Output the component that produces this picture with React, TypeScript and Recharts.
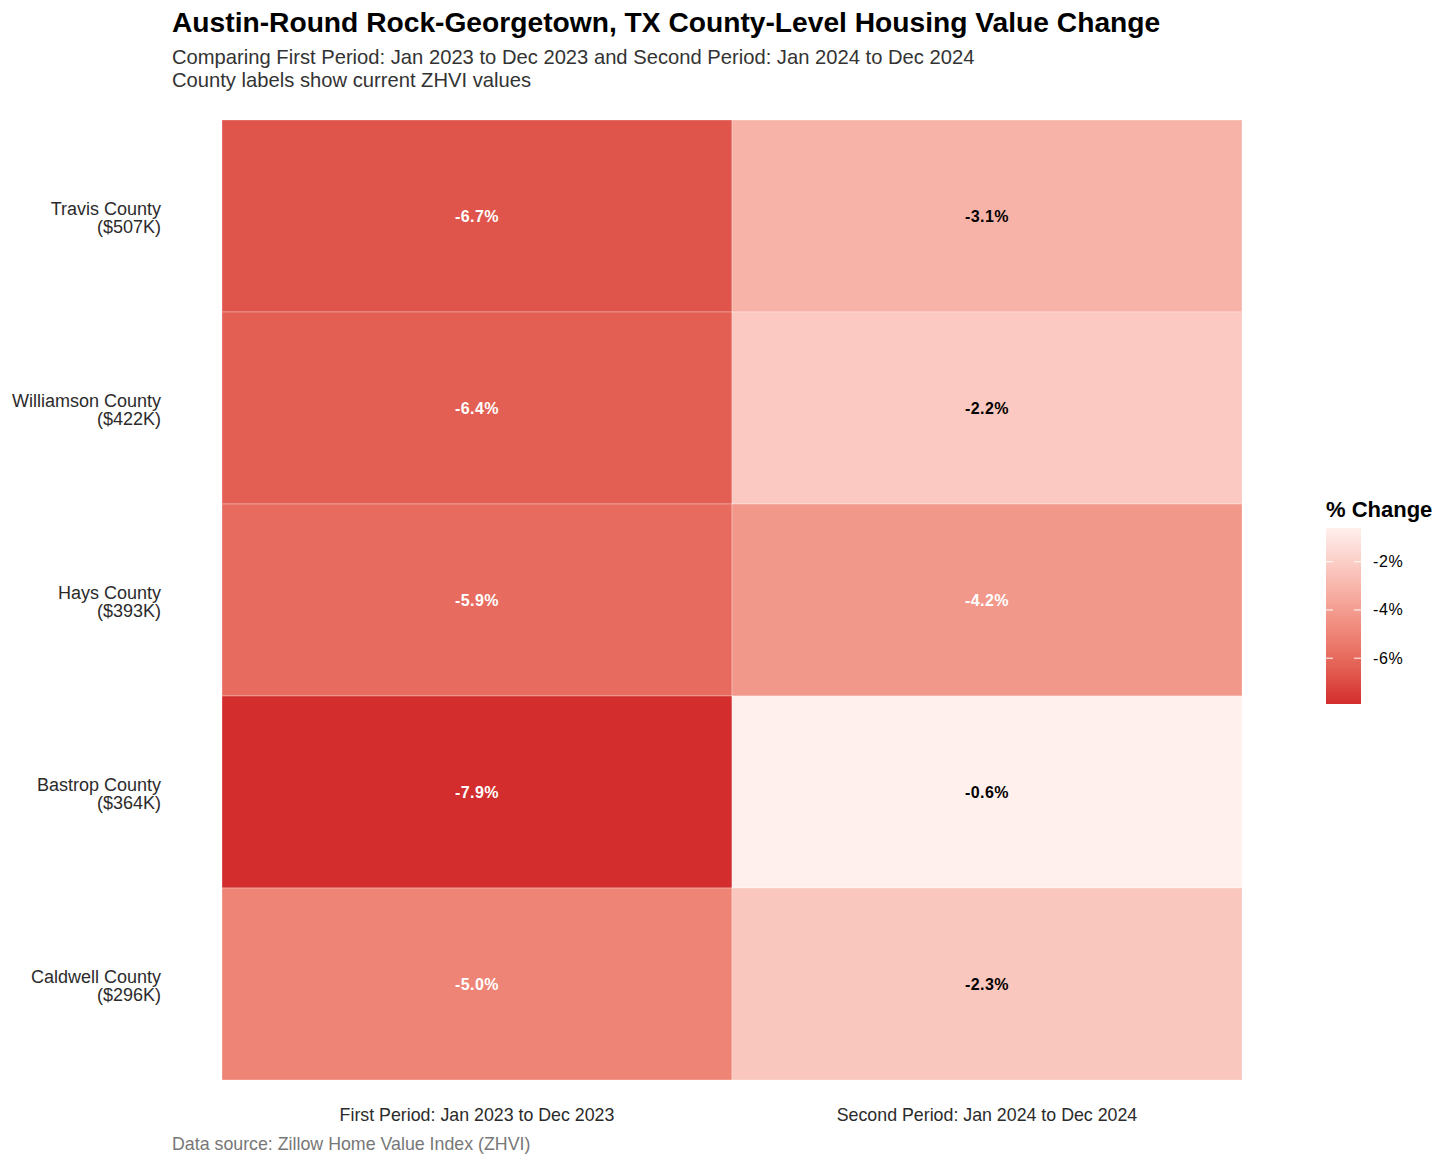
import React from "react";
import { BarChart, Bar, XAxis, YAxis, Cell, LabelList } from "recharts";

const counties = ["Travis County", "Williamson County", "Hays County", "Bastrop County", "Caldwell County"];
const zhviLabels = ["$507K", "$422K", "$393K", "$364K", "$296K"];
const firstPeriod = [-6.7, -6.4, -5.9, -7.9, -5.0];
const secondPeriod = [-3.1, -2.2, -4.2, -0.6, -2.3];
const periodLabels = ["First Period: Jan 2023 to Dec 2023", "Second Period: Jan 2024 to Dec 2024"];
const legendTicks = [-2, -4, -6];

const colorStops: [number, string][] = [
  [-7.9, "#d32d2d"],
  [-6.5, "#e25c50"],
  [-5.0, "#ee8476"],
  [-3.1, "#f8b3a8"],
  [-0.6, "#fff0ee"],
];

const FONT = "'Liberation Sans', Arial, Helvetica, sans-serif";

function hexToRgb(h: string) {
  const n = parseInt(h.slice(1), 16);
  return [(n >> 16) & 255, (n >> 8) & 255, n & 255];
}
function colorFor(v: number): string {
  if (v <= colorStops[0][0]) return colorStops[0][1];
  for (let i = 0; i < colorStops.length - 1; i++) {
    const [a, ca] = colorStops[i];
    const [b, cb] = colorStops[i + 1];
    if (v >= a && v <= b) {
      const t = (v - a) / (b - a);
      const ra = hexToRgb(ca);
      const rb = hexToRgb(cb);
      const c = ra.map((x, k) => Math.round(x + (rb[k] - x) * t));
      return `rgb(${c[0]},${c[1]},${c[2]})`;
    }
  }
  return colorStops[colorStops.length - 1][1];
}

const data = counties.map((c, i) => ({
  county: c,
  zhvi: zhviLabels[i],
  first: firstPeriod[i],
  second: secondPeriod[i],
  w1: 1,
  w2: 1,
}));

const CountyTick = (props: any) => {
  const { y, payload } = props;
  const idx = counties.indexOf(payload.value);
  return (
    <text x={161} y={y} textAnchor="end" fontSize={18} fill="#2b2b2b" fontFamily={FONT}>
      <tspan x={161} dy={-1.5}>{payload.value}</tspan>
      <tspan x={161} dy={18.8}>({zhviLabels[idx]})</tspan>
    </text>
  );
};

const PeriodTick = (props: any) => {
  const { x, payload } = props;
  const label = payload.value < 1 ? periodLabels[0] : periodLabels[1];
  return (
    <text x={x} y={1121} textAnchor="middle" fontSize={17.8} fill="#2b2b2b" fontFamily={FONT}>
      {label}
    </text>
  );
};

const renderValue = (props: any) => {
  const { x, y, width, height, value } = props;
  const v = Number(value);
  return (
    <text
      x={x + width / 2}
      y={y + height / 2}
      textAnchor="middle"
      dominantBaseline="central"
      fontSize={16}
      letterSpacing={0.4}
      fontWeight="bold"
      fill={v <= -4 ? "#ffffff" : "#000000"}
      fontFamily={FONT}
    >
      {v.toFixed(1)}%
    </text>
  );
};

const LEG_TOP = 528;
const LEG_BOTTOM = 704;
const LEG_MAX = -0.6;
const LEG_MIN = -7.9;
const legY = (v: number) => LEG_TOP + ((LEG_MAX - v) / (LEG_MAX - LEG_MIN)) * (LEG_BOTTOM - LEG_TOP);

export default function App() {
  return (
    <div style={{ position: "absolute", left: 0, top: 0, width: 1456, height: 1165, background: "#fff" }}>
      <BarChart
        width={1456}
        height={1165}
        data={data}
        layout="vertical"
        barCategoryGap={0}
        margin={{ top: 120, right: 214, bottom: 45, left: 0 }}
      >
        <XAxis
          type="number"
          domain={[0, 2]}
          ticks={[0.5, 1.5]}
          axisLine={false}
          tickLine={false}
          height={40}
          tick={<PeriodTick />}
        />
        <YAxis
          type="category"
          dataKey="county"
          width={222}
          axisLine={false}
          tickLine={false}
          tick={<CountyTick />}
          interval={0}
        />
        <Bar dataKey="w1" stackId="a" isAnimationActive={false} stroke="#ffffff" strokeWidth={0.6} strokeOpacity={0.5}>
          {data.map((d, i) => (
            <Cell key={`f${i}`} fill={colorFor(d.first)} />
          ))}
          <LabelList dataKey="first" content={renderValue} />
        </Bar>
        <Bar dataKey="w2" stackId="a" isAnimationActive={false} stroke="#ffffff" strokeWidth={0.6} strokeOpacity={0.5}>
          {data.map((d, i) => (
            <Cell key={`s${i}`} fill={colorFor(d.second)} />
          ))}
          <LabelList dataKey="second" content={renderValue} />
        </Bar>
      </BarChart>
      <svg
        width={1456}
        height={1165}
        style={{ position: "absolute", left: 0, top: 0, pointerEvents: "none" }}
        fontFamily={FONT}
      >
        <defs>
          <linearGradient id="legGrad" x1="0" y1="0" x2="0" y2="1">
            {colorStops
              .slice()
              .reverse()
              .map(([v, c], i) => (
                <stop key={i} offset={(LEG_MAX - v) / (LEG_MAX - LEG_MIN)} stopColor={c} />
              ))}
          </linearGradient>
        </defs>
        <text x={172} y={32} fontSize={28.2} fontWeight="bold" fill="#000">
          Austin-Round Rock-Georgetown, TX County-Level Housing Value Change
        </text>
        <text x={172} y={64} fontSize={20.2} fill="#333">
          Comparing First Period: Jan 2023 to Dec 2023 and Second Period: Jan 2024 to Dec 2024
        </text>
        <text x={172} y={87} fontSize={20.2} fill="#333">
          County labels show current ZHVI values
        </text>
        <text x={172} y={1150} fontSize={17.8} fill="#777">
          Data source: Zillow Home Value Index (ZHVI)
        </text>
        <text x={1326} y={517} fontSize={22} fontWeight="bold" fill="#000">
          % Change
        </text>
        <rect x={1326} y={LEG_TOP} width={35} height={LEG_BOTTOM - LEG_TOP} fill="url(#legGrad)" />
        {legendTicks.map((t) => (
          <g key={t}>
            <line x1={1326} x2={1333} y1={legY(t)} y2={legY(t)} stroke="#fff" strokeWidth={1} />
            <line x1={1354} x2={1361} y1={legY(t)} y2={legY(t)} stroke="#fff" strokeWidth={1} />
            <text x={1373} y={legY(t)} dominantBaseline="central" fontSize={16} letterSpacing={0.6} fill="#000">
              {t}%
            </text>
          </g>
        ))}
      </svg>
    </div>
  );
}
